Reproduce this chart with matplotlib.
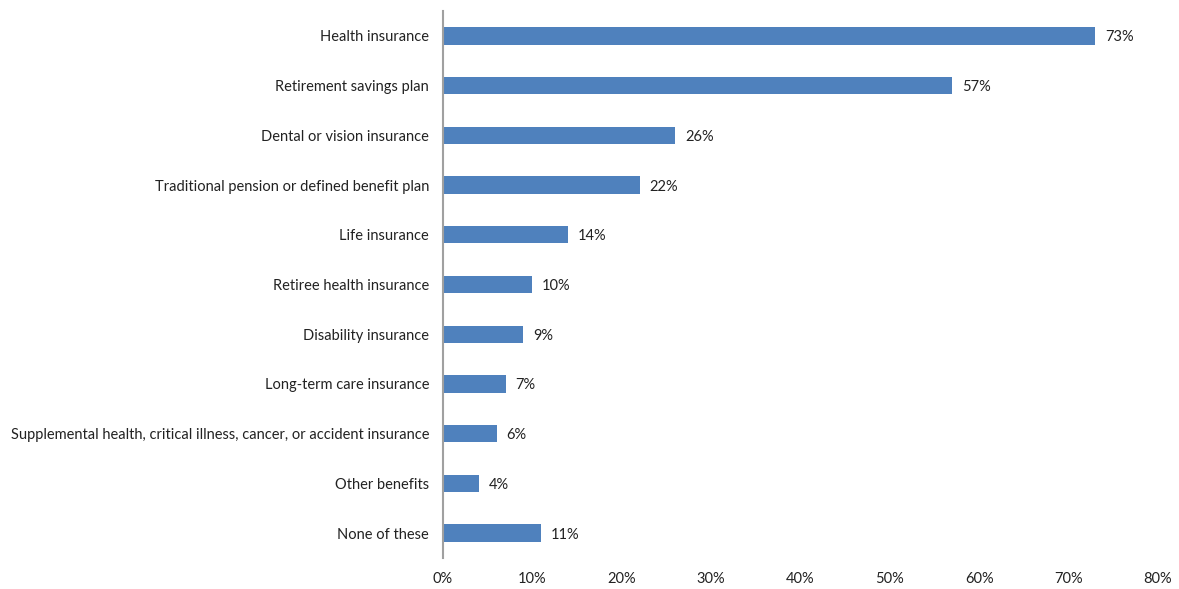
import matplotlib
matplotlib.use("Agg")
import matplotlib.pyplot as plt
import numpy as np

plt.rcParams.update({
    "font.family": ["Lato", "DejaVu Sans"],
    "font.size": 10.5,
})

categories = [
    "Health insurance",
    "Retirement savings plan",
    "Dental or vision insurance",
    "Traditional pension or defined benefit plan",
    "Life insurance",
    "Retiree health insurance",
    "Disability insurance",
    "Long-term care insurance",
    "Supplemental health, critical illness, cancer, or accident insurance",
    "Other benefits",
    "None of these",
]
values = [73, 57, 26, 22, 14, 10, 9, 7, 6, 4, 11]
xticks = [0, 10, 20, 30, 40, 50, 60, 70, 80]

fig = plt.figure(figsize=(11.79, 5.89), dpi=100)
ax = fig.add_axes([0.3757, 0.0526, 0.6065, 0.9287])

y = np.arange(len(categories))
ax.barh(y, values, height=0.35, color="#4F81BD")
for yi, v in zip(y, values):
    ax.text(v + 1.1, yi + 0.03, f"{v}%", va="center", ha="left", color="#222222")

ax.set_xlim(0, 80)
ax.set_ylim(len(categories) - 0.5, -0.5)
ax.set_yticks(y)
ax.set_yticklabels(categories, color="#222222")
ax.set_xticks(xticks)
ax.set_xticklabels([f"{t}%" for t in xticks], color="#222222")
ax.tick_params(length=0)
ax.tick_params(axis="y", pad=10)
ax.tick_params(axis="x", pad=10)
for s in ["top", "right", "bottom"]:
    ax.spines[s].set_visible(False)
ax.spines["left"].set_color("#A0A0A0")
ax.spines["left"].set_linewidth(1.5)

fig.savefig("out.png", dpi=100)
